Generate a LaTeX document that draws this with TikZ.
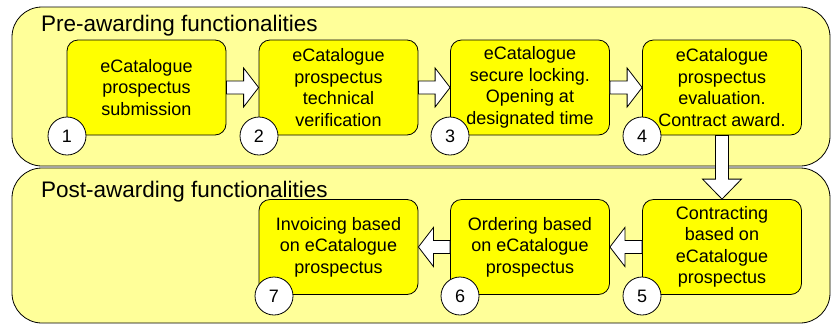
\documentclass[tikz,border=0pt]{standalone}
\usepackage{fontspec}
\setmainfont{Liberation Sans}
\usetikzlibrary{calc}
\definecolor{panelfill}{HTML}{FFFF99}
\definecolor{boxfill}{HTML}{FFFF00}
\tikzset{
  panel/.style={draw=black, line width=0.8pt, fill=panelfill, rounded corners=30pt},
  stepbox/.style={draw=black, line width=0.8pt, fill=boxfill, rounded corners=11pt,
    minimum width=159pt, minimum height=95pt, inner sep=0pt, align=center,
    font=\fontsize{18}{21.5}\selectfont},
  numcircle/.style={draw=black, line width=0.8pt, fill=white, circle, minimum size=38pt,
    inner sep=0pt, font=\fontsize{18}{20}\selectfont},
  paneltitle/.style={anchor=base west, inner sep=0pt, font=\fontsize{22.5}{26}\selectfont},
  blockarrow/.style={draw=black, line width=0.8pt, fill=white, line join=miter}
}
\begin{document}
\begin{tikzpicture}[x=1pt,y=-1pt]
\useasboundingbox (0,0) rectangle (832,325);
% panels
\path[panel] (12,7) rectangle (830,166);
\path[panel] (12,168) rectangle (830,323);
\node[paneltitle] (t1) at (41,31) {Pre-awarding functionalities};
\node[paneltitle] (t2) at (41,197) {Post-awarding functionalities};
% boxes
\node[stepbox] (b1) at (146.5,87.5) {eCatalogue\\prospectus\\submission};
\node[stepbox] (b2) at (338.5,87.5) {eCatalogue\\prospectus\\technical\\verification};
\node[stepbox] (b3) at (530,87.5) {eCatalogue\\secure locking.\\Opening at\\designated time};
\node[stepbox] (b4) at (722,87.5) {eCatalogue\\prospectus\\evaluation.\\Contract award.};
\node[stepbox] (b7) at (338.5,247) {Invoicing based\\on eCatalogue\\prospectus};
\node[stepbox] (b6) at (530,247) {Ordering based\\on eCatalogue\\prospectus};
\node[stepbox] (b5) at (722,247) {Contracting\\based on\\eCatalogue\\prospectus};
% block arrows (right)
\foreach \a/\b in {b1/b2,b2/b3,b3/b4}{
  \draw[blockarrow] ($(\a.east)+(0,-6.5)$) -- ($(\b.west)+(-15,-6.5)$) -- ($(\b.west)+(-15,-19.5)$)
    -- (\b.west) -- ($(\b.west)+(-15,19.5)$) -- ($(\b.west)+(-15,6.5)$) -- ($(\a.east)+(0,6.5)$) -- cycle;
}
% block arrows (left)
\foreach \a/\b in {b5/b6,b6/b7}{
  \draw[blockarrow] ($(\a.west)+(0,-6.5)$) -- ($(\b.east)+(15,-6.5)$) -- ($(\b.east)+(15,-19.5)$)
    -- (\b.east) -- ($(\b.east)+(15,19.5)$) -- ($(\b.east)+(15,6.5)$) -- ($(\a.west)+(0,6.5)$) -- cycle;
}
% block arrow (down)
\draw[blockarrow] ($(b4.south)+(-6.5,0)$) -- ($(b5.north)+(-6.5,-20)$) -- ($(b5.north)+(-19.5,-20)$)
  -- (b5.north) -- ($(b5.north)+(19.5,-20)$) -- ($(b5.north)+(6.5,-20)$) -- ($(b4.south)+(6.5,0)$) -- cycle;
% number circles
\node[numcircle] (c1) at (67,136) {1};
\node[numcircle] (c2) at (259,136) {2};
\node[numcircle] (c3) at (450,136) {3};
\node[numcircle] (c4) at (642,136) {4};
\node[numcircle] (c7) at (274,296) {7};
\node[numcircle] (c6) at (460,296) {6};
\node[numcircle] (c5) at (642,296) {5};
\end{tikzpicture}
\end{document}
